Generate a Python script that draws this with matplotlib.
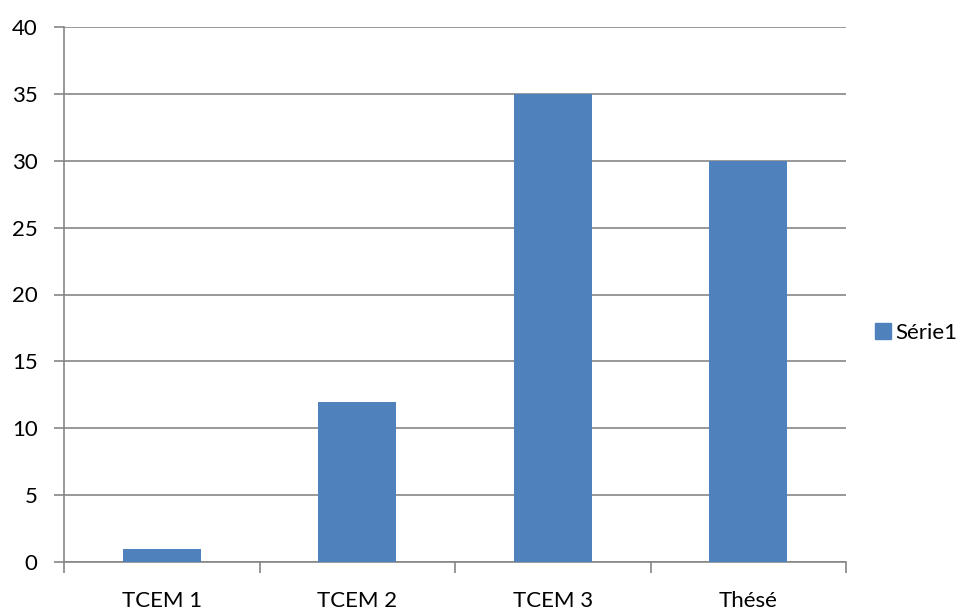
import matplotlib
matplotlib.use("Agg")
import matplotlib.pyplot as plt
from matplotlib.patches import Patch

categories = ["TCEM 1", "TCEM 2", "TCEM 3", "Thésé"]
values = [1, 12, 35, 30]
series_name = "Série1"
yticks = [0, 5, 10, 15, 20, 25, 30, 35, 40]

plt.rcParams['font.family'] = ['Lato', 'DejaVu Sans']

fig = plt.figure(figsize=(9.68, 6.16), dpi=100)
ax = fig.add_axes([64/968, 54/616, 782/968, 535/616])

grid_c = "#868686"
fs = 16
x = range(len(categories))
ax.bar(x, values, width=0.4, color="#4F81BD", zorder=3)
ax.set_xlim(-0.5, len(categories) - 0.5)
ax.set_ylim(0, 40)
ax.set_yticks(yticks)
ax.yaxis.grid(True, color=grid_c, linewidth=1.2, zorder=0)
ax.tick_params(axis='y', length=7, width=1.2, color=grid_c, labelsize=fs, pad=12)
ax.set_xticks([i for i in x])
ax.set_xticklabels(categories, fontsize=fs)
ax.tick_params(axis='x', length=0, pad=21)
# category boundary ticks
ax.set_xticks([i - 0.5 for i in range(len(categories) + 1)], minor=True)
ax.tick_params(axis='x', which='minor', length=8, width=1.2, color=grid_c)
for s in ['top', 'right']:
    ax.spines[s].set_visible(False)
for s in ['left', 'bottom']:
    ax.spines[s].set_color(grid_c)
    ax.spines[s].set_linewidth(1.2)

ax.legend(handles=[Patch(color="#4F81BD", label=series_name)], loc='center left',
          bbox_to_anchor=(1.012, 0.428), frameon=False, fontsize=fs,
          handlelength=0.7, handleheight=0.7, handletextpad=0.2)

fig.savefig("out.png", dpi=100)
